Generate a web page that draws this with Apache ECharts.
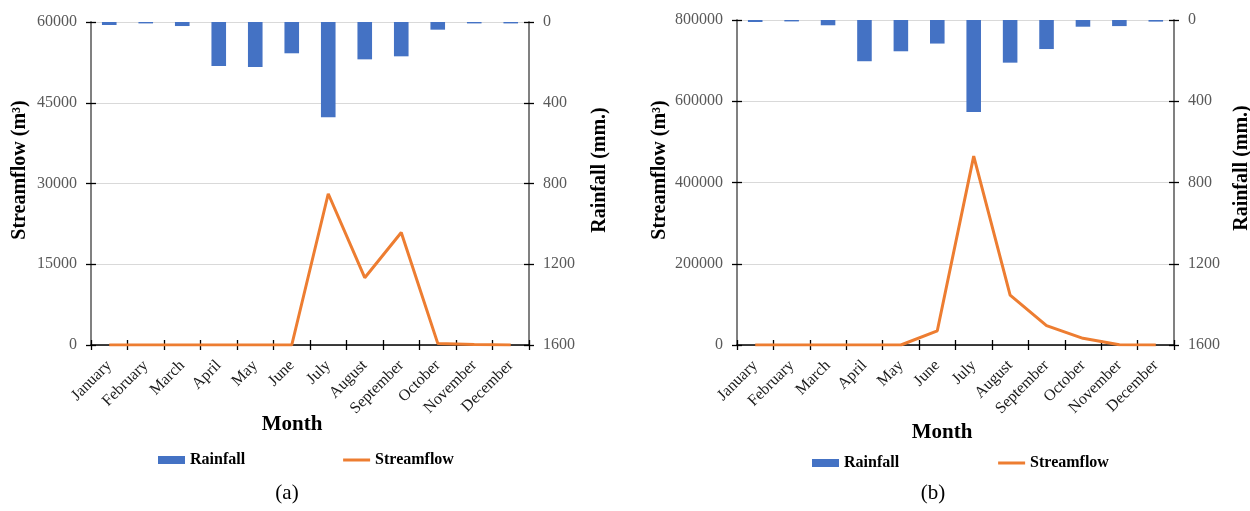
<!DOCTYPE html>
<html>
<head>
<meta charset="utf-8">
<script src="https://cdn.jsdelivr.net/npm/echarts@6/dist/echarts.min.js"></script>
<style>
html,body{margin:0;padding:0;background:#fff;}
#chart{width:1250px;height:511px;}
</style>
</head>
<body>
<div id="chart"></div>
<script>
// ---- data ----
const months = ['January','February','March','April','May','June','July','August','September','October','November','December'];
// (a)
const rainfallA = [15, 7, 20, 218, 223, 155, 472, 185, 170, 38, 7, 7];
const streamflowA = [0, 0, 0, 0, 0, 0, 28100, 12500, 20900, 300, 80, 0];
// (b)
const rainfallB = [10, 7, 26, 203, 154, 116, 453, 210, 143, 33, 30, 8];
const streamflowB = [0, 0, 0, 0, 0, 35000, 465000, 123000, 47500, 16500, 500, 0];
// axis ranges / ticks
const flowTicksA = [0, 15000, 30000, 45000, 60000];
const flowTicksB = [0, 200000, 400000, 600000, 800000];
const rainTicks = [0, 400, 800, 1200, 1600];

const BLUE = '#4472C4', ORANGE = '#ED7D31';
const SERIF = '"Liberation Serif","Times New Roman",serif';

const chart = echarts.init(document.getElementById('chart'), null, {renderer: 'canvas'});

function rangeOf(t){ return {min: t[0], max: t[t.length-1], interval: t[1]-t[0]}; }

function xMain(grid){
  return {
    type: 'category', gridIndex: grid, data: months, position: 'bottom', boundaryGap: true,
    axisLine: {show: true, onZero: false, lineStyle: {color: '#000', width: 1.5}},
    axisTick: {show: true, interval: 0, length: 5, inside: false, lineStyle: {color: '#000', width: 1.3}},
    axisLabel: {rotate: 45, fontFamily: SERIF, fontSize: 16, color: '#1a1a1a', margin: 18, interval: 0},
    splitLine: {show: false}
  };
}
function xDup(grid){
  return {
    type: 'category', gridIndex: grid, data: months, position: 'bottom', boundaryGap: true,
    axisLine: {show: false, onZero: false},
    axisTick: {show: true, interval: 0, length: 5, inside: true, lineStyle: {color: '#000', width: 1.3}},
    axisLabel: {show: false}, splitLine: {show: false}
  };
}
function yAxis(grid, ticks, pos, inverse, isDup, split){
  const r = rangeOf(ticks);
  return Object.assign({
    type: 'value', gridIndex: grid, position: pos, inverse: inverse,
    axisLine: {show: !isDup, onZero: false, lineStyle: {color: '#808080', width: 2}},
    axisTick: {show: true, length: 5, inside: isDup, lineStyle: {color: '#000', width: 1.3}},
    axisLabel: {show: !isDup, fontFamily: SERIF, fontSize: 16, color: '#595959', margin: 14,
      formatter: v => String(v)},
    splitLine: {show: !!split, lineStyle: {color: '#d9d9d9', width: 1.2}}
  }, r);
}

const titleStyle = {fontFamily: SERIF, fontWeight: 'bold', fontSize: 20, fill: '#000'};
function vText(txt, x, y){
  return {type: 'text', x: x, y: y, rotation: Math.PI/2,
    style: Object.assign({text: txt, align: 'center', verticalAlign: 'middle'}, titleStyle)};
}
function hText(txt, x, y, size, bold){
  return {type: 'text', x: x, y: y,
    style: {text: txt, align: 'center', verticalAlign: 'middle', fontFamily: SERIF,
      fontWeight: bold ? 'bold' : 'normal', fontSize: size, fill: '#000'}};
}

const lineIcon = 'path://M0,0H27V3H0Z';
const legendText = {fontFamily: SERIF, fontWeight: 'bold', fontSize: 16, color: '#000'};

const option = {
  backgroundColor: '#fff',
  animation: false,
  grid: [
    {left: 91, top: 22, width: 438, height: 323},
    {left: 737, top: 20, width: 437, height: 325}
  ],
  xAxis: [xMain(0), xDup(0), xMain(1), xDup(1)],
  yAxis: [
    yAxis(0, flowTicksA, 'left', false, false, true),
    yAxis(0, rainTicks, 'right', true, false, false),
    yAxis(1, flowTicksB, 'left', false, false, true),
    yAxis(1, rainTicks, 'right', true, false, false),
    yAxis(0, flowTicksA, 'left', false, true, false),
    yAxis(0, rainTicks, 'right', true, true, false),
    yAxis(1, flowTicksB, 'left', false, true, false),
    yAxis(1, rainTicks, 'right', true, true, false)
  ],
  legend: [
    {left: 158, top: 452, padding: 0, itemWidth: 27, itemHeight: 8, itemGap: 98,
      textStyle: legendText, selectedMode: false,
      data: [{name: 'Rainfall', icon: 'rect'}, {name: 'Streamflow', icon: lineIcon}]},
    {left: 812, top: 455, padding: 0, itemWidth: 27, itemHeight: 8, itemGap: 99,
      textStyle: legendText, selectedMode: false,
      data: [{name: 'Rainfall', icon: 'rect'}, {name: 'Streamflow', icon: lineIcon}]}
  ],
  series: [
    {name: 'Rainfall', type: 'bar', xAxisIndex: 0, yAxisIndex: 1, data: rainfallA,
      barWidth: '40%', itemStyle: {color: BLUE}, z: 2},
    {name: 'Streamflow', type: 'line', xAxisIndex: 0, yAxisIndex: 0, data: streamflowA,
      symbol: 'none', lineStyle: {color: ORANGE, width: 3}, itemStyle: {color: ORANGE}, z: 3},
    {name: 'Rainfall', type: 'bar', xAxisIndex: 2, yAxisIndex: 3, data: rainfallB,
      barWidth: '40%', itemStyle: {color: BLUE}, z: 2},
    {name: 'Streamflow', type: 'line', xAxisIndex: 2, yAxisIndex: 2, data: streamflowB,
      symbol: 'none', lineStyle: {color: ORANGE, width: 3}, itemStyle: {color: ORANGE}, z: 3}
  ],
  graphic: [
    vText('Streamflow (m³)', 20, 170),
    vText('Rainfall (mm.)', 600, 170),
    vText('Streamflow (m³)', 660, 170),
    vText('Rainfall (mm.)', 1242, 168),
    hText('Month', 292, 425, 21, true),
    hText('Month', 942, 433, 21, true),
    hText('(a)', 287, 493, 21, false),
    hText('(b)', 933, 493, 21, false)
  ]
};
chart.setOption(option);
</script>
</body>
</html>
